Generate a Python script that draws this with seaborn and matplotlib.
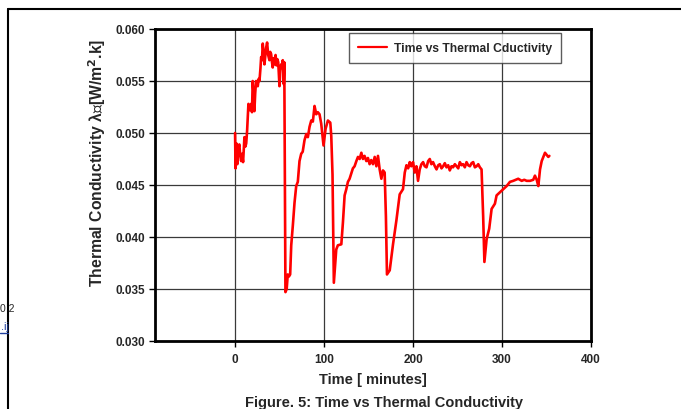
import matplotlib
matplotlib.use("Agg")
import matplotlib.pyplot as plt
import seaborn as sns
import pandas as pd

time_min = [0, 0.5, 1.5, 2.5, 3.5, 4.8, 5.8, 6.8, 7.8, 9, 10.5, 11.6, 12.5, 13.5, 15, 16.5, 18, 19,
            19.8, 21, 21.7, 22.6, 23.6, 25.5, 26.5, 27.4, 28.5, 29.3, 30.2, 31.1, 32, 33, 34, 34.9,
            36, 37.2, 38.6, 39.5, 40.5, 41.5, 42.3, 43.3, 44.3, 45.5, 46.5, 47.5, 48.5, 49.9, 50.8,
            51.8, 52.7, 53.6, 54.7, 55.3, 56.6, 58, 59.2, 60.5, 61.9, 63.1, 64.9, 66.8, 68.7, 70.5,
            72.4, 74.3, 76, 78.0, 80.0, 81.8, 83.7, 85.6, 87.4, 89.3, 91.2, 93.0, 94.9, 96.8, 99.4,
            101.7, 104.3, 107, 108.1, 109.5, 111, 113.7, 115.5, 119.4, 121.2, 123.1, 125, 126.8,
            128.7, 130.6, 132.4, 134.3, 136.3, 138.1, 140, 141.9, 143.7, 145.5, 147.5, 149.3, 151.2,
            153, 155, 156.9, 158.8, 160.6, 162.5, 164.4, 166.2, 168.1, 169.5, 170.7, 173.8, 177.5,
            181.3, 185, 188.7, 190.7, 192.6, 194.5, 196.3, 198, 200, 201.9, 203.8, 205.6, 207.5,
            209.4, 211.3, 213.2, 215.1, 217, 218.8, 220.6, 222.5, 224.5, 226.4, 228.3, 230.1, 232,
            233.8, 235.7, 237.6, 239.5, 241.3, 243.2, 245, 247, 248.9, 250.8, 252.6, 254.5, 256.3,
            258.2, 260.1, 262, 263.9, 265.8, 267.6, 269.5, 271.4, 273.3, 275.1, 277, 278.8, 280.2,
            282.7, 285.6, 288.3, 292, 293.9, 297.6, 301.4, 305.2, 308.9, 312.6, 315.5, 318.2, 322.1,
            325, 327.7, 331.5, 335.1, 337, 339, 340.8, 342.7, 344.6, 346.4, 348.3, 350.2, 352, 353.2]
conductivity = [0.0500, 0.0466, 0.0490, 0.0470, 0.0485, 0.0489, 0.0478, 0.0473, 0.0480, 0.0472,
                0.0496, 0.0487, 0.0490, 0.0502, 0.0528, 0.0522, 0.0528, 0.0520, 0.0550, 0.0535,
                0.0521, 0.0538, 0.0550, 0.0545, 0.0552, 0.0550, 0.0562, 0.0573, 0.0570, 0.0586,
                0.0578, 0.0566, 0.0575, 0.0582, 0.0587, 0.0575, 0.0570, 0.0578, 0.0576, 0.0568,
                0.0563, 0.0572, 0.0566, 0.0575, 0.0565, 0.0571, 0.0568, 0.0545, 0.0560, 0.0566,
                0.0563, 0.0570, 0.0547, 0.0568, 0.0347, 0.0350, 0.0364, 0.0362, 0.0364, 0.0392,
                0.0411, 0.0433, 0.0449, 0.0453, 0.0473, 0.0480, 0.0482, 0.0493, 0.0499, 0.0496,
                0.0506, 0.0512, 0.0511, 0.0526, 0.0518, 0.0520, 0.0518, 0.0509, 0.0488, 0.0504,
                0.0512, 0.0510, 0.0497, 0.0460, 0.0356, 0.0388, 0.0392, 0.0393, 0.0414, 0.0440,
                0.0446, 0.0453, 0.0456, 0.0461, 0.0466, 0.0468, 0.0473, 0.0477, 0.0475, 0.0481,
                0.0475, 0.0478, 0.0473, 0.0476, 0.0470, 0.0474, 0.0470, 0.0477, 0.0468, 0.0478,
                0.0465, 0.0456, 0.0464, 0.0462, 0.0420, 0.0364, 0.0368, 0.0393, 0.0416, 0.0441,
                0.0446, 0.0462, 0.0469, 0.0466, 0.0472, 0.0468, 0.0472, 0.0462, 0.0468, 0.0454,
                0.0465, 0.0470, 0.0472, 0.0468, 0.0467, 0.0473, 0.0475, 0.0470, 0.0472, 0.0468,
                0.0465, 0.0469, 0.0470, 0.0466, 0.0468, 0.0471, 0.0467, 0.0469, 0.0464, 0.0468,
                0.0467, 0.0470, 0.0468, 0.0466, 0.0472, 0.0469, 0.0470, 0.0467, 0.0472, 0.0469,
                0.0468, 0.0471, 0.0472, 0.0467, 0.0468, 0.0470, 0.0467, 0.0465, 0.0420, 0.0376,
                0.0398, 0.0408, 0.0427, 0.0432, 0.0440, 0.0443, 0.0446, 0.0449, 0.0453, 0.0454,
                0.0455, 0.0456, 0.0454, 0.0455, 0.0454, 0.0454, 0.0455, 0.0459, 0.0455, 0.0449,
                0.0465, 0.0473, 0.0477, 0.0481, 0.0479, 0.0477, 0.0478]

series_name = "Time vs Thermal Cductivity"
x_ticks = [0, 100, 200, 300, 400]
y_ticks = [0.030, 0.035, 0.040, 0.045, 0.050, 0.055, 0.060]

sns.set_style("white")
FONT = ["Liberation Sans", "DejaVu Sans"]
plt.rcParams["font.family"] = FONT

df = pd.DataFrame({"Time": time_min, "Conductivity": conductivity, "series": series_name})

fig = plt.figure(figsize=(6.81, 4.10), dpi=100)
ax = fig.add_axes([155 / 681, 1 - 342 / 410, 436 / 681, 312 / 410])

sns.lineplot(data=df, x="Time", y="Conductivity", hue="series", palette=["#ff0000"],
             sort=False, estimator=None, linewidth=1.9, ax=ax)

ax.set_xlim(-90, 400)
ax.set_ylim(0.030, 0.060)
ax.set_xticks(x_ticks)
ax.set_yticks(y_ticks)
ax.set_xticklabels([str(v) for v in x_ticks], fontsize=8.5, fontweight="bold")
ax.set_yticklabels([f"{v:.3f}" for v in y_ticks], fontsize=8.5, fontweight="bold")
ax.tick_params(axis="both", direction="out", length=4, width=1, color="black", pad=3,
               bottom=True, left=True)
ax.tick_params(axis="x", pad=5)
ax.grid(True, color="#3a3a3a", linewidth=0.9)
ax.set_axisbelow(True)
for s in ax.spines.values():
    s.set_color("black")
    s.set_linewidth(2.0)

ax.set_xlabel("Time [ minutes]", fontsize=10.5, fontweight="bold", labelpad=5)
ax.set_ylabel("Thermal Conductivity λ\u25af[W/m$^{\\mathbf{2}}$.k]", fontsize=11.3,
              fontweight="bold", labelpad=7)
ax.yaxis.set_label_coords(-0.108, 0.574)

leg = ax.legend(loc="upper right", bbox_to_anchor=(0.932, 0.988), frameon=True, fancybox=False,
                prop={"family": FONT, "weight": "bold", "size": 8.7}, handlelength=2.4,
                borderpad=0.75, borderaxespad=0, handletextpad=0.6)
leg.get_frame().set_edgecolor("#333333")
leg.get_frame().set_linewidth(1.0)
for l in leg.get_lines():
    l.set_linewidth(1.6)

fig.text(384 / 681, 1 - 403 / 410, "Figure. 5: Time vs Thermal Conductivity", ha="center",
         va="center", fontsize=10.5, fontweight="bold")

# page decorations
fig.add_artist(plt.Line2D([8 / 681, 1], [1 - 10 / 410, 1 - 10 / 410], color="black",
                          linewidth=1.5, transform=fig.transFigure))
fig.add_artist(plt.Line2D([8 / 681, 8 / 681], [0, 1 - 10 / 410], color="black",
                          linewidth=1.5, transform=fig.transFigure))
fig.text(0.5 / 681, 1 - 309 / 410, "0 2", ha="left", va="center", fontsize=7.5)
fig.text(0.5 / 681, 1 - 327 / 410, ".ij", ha="left", va="center", fontsize=8, color="#1f3f9f")
fig.add_artist(plt.Line2D([0, 8 / 681], [1 - 334 / 410, 1 - 334 / 410], color="#1f3f9f",
                          linewidth=1, transform=fig.transFigure))

fig.savefig("out.png", dpi=100)
